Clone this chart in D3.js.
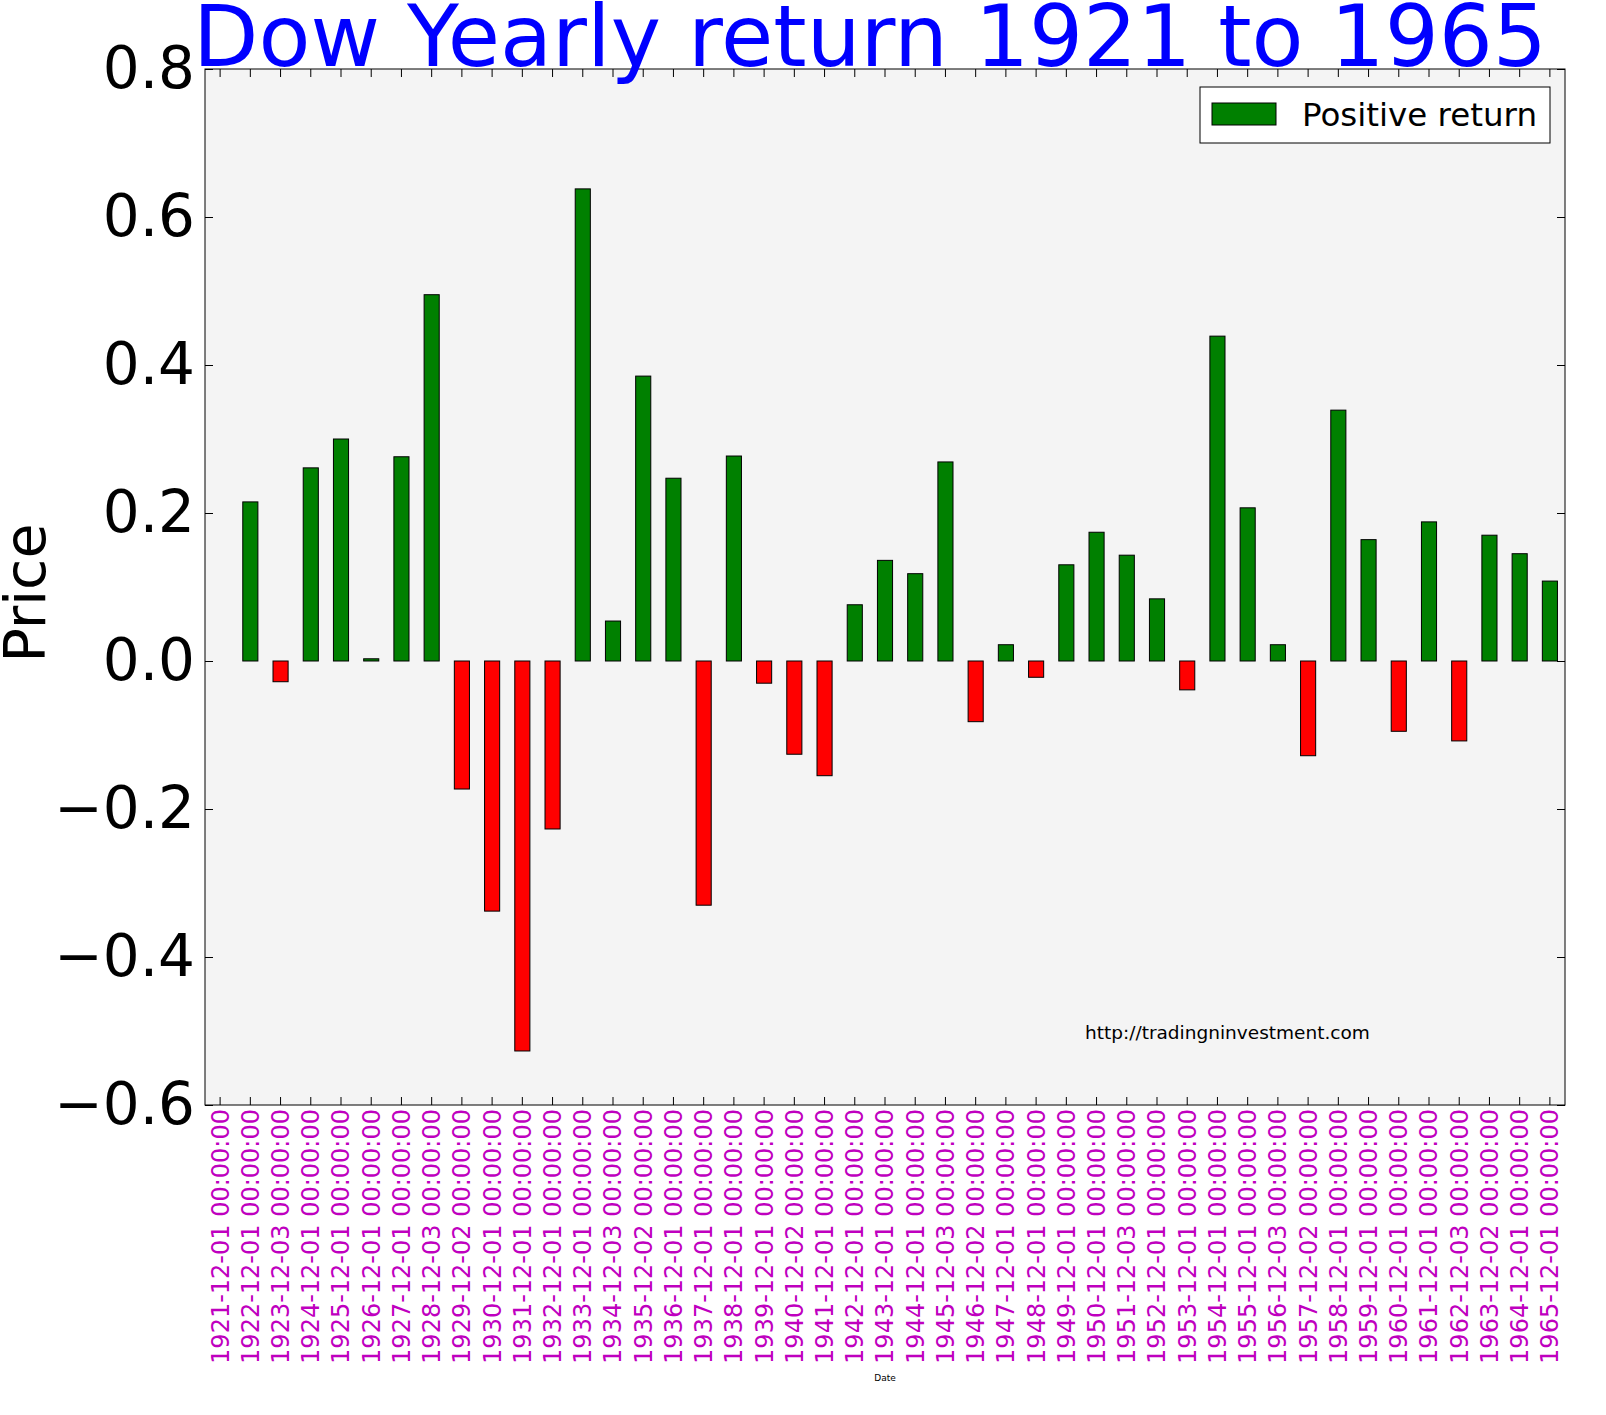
<!DOCTYPE html>
<html><head><meta charset="utf-8">
<script src="https://d3js.org/d3.v7.min.js"></script>
<style>body{margin:0;background:#fff}text{font-family:"DejaVu Sans",sans-serif}</style>
</head><body><svg id="c" width="1606" height="1415"></svg>
<script>
const dates=["1921-12-01","1922-12-01","1923-12-03","1924-12-01","1925-12-01","1926-12-01","1927-12-01","1928-12-03","1929-12-02","1930-12-01","1931-12-01","1932-12-01","1933-12-01","1934-12-03","1935-12-02","1936-12-01","1937-12-01","1938-12-01","1939-12-01","1940-12-02","1941-12-01","1942-12-01","1943-12-01","1944-12-01","1945-12-03","1946-12-02","1947-12-01","1948-12-01","1949-12-01","1950-12-01","1951-12-03","1952-12-01","1953-12-01","1954-12-01","1955-12-01","1956-12-03","1957-12-02","1958-12-01","1959-12-01","1960-12-01","1961-12-01","1962-12-03","1963-12-02","1964-12-01","1965-12-01"];
const returns=[0.0,0.215,-0.028,0.261,0.300,0.003,0.276,0.495,-0.173,-0.338,-0.527,-0.227,0.638,0.054,0.385,0.247,-0.330,0.277,-0.030,-0.126,-0.155,0.076,0.136,0.118,0.269,-0.082,0.022,-0.022,0.130,0.174,0.143,0.084,-0.039,0.439,0.207,0.022,-0.128,0.339,0.164,-0.095,0.188,-0.108,0.170,0.145,0.108];
const yTicks=[-0.6,-0.4,-0.2,0.0,0.2,0.4,0.6,0.8];
const L=205,R=1565,T=69,B=1105;
const svg=d3.select("#c");
const x=d3.scaleBand().domain(dates).range([L,R]);
const y=d3.scaleLinear().domain([-0.6,0.8]).range([B,T]);
svg.append("rect").attr("x",L).attr("y",T).attr("width",R-L).attr("height",B-T).attr("fill","#f4f4f4");
const bw=x.bandwidth()*0.5;
svg.selectAll(".bar").data(dates).join("rect")
 .attr("x",d=>x(d)+x.bandwidth()/2-bw/2).attr("width",bw)
 .attr("y",(d,i)=>y(Math.max(0,returns[i]))).attr("height",(d,i)=>Math.abs(y(returns[i])-y(0)))
 .attr("fill",(d,i)=>returns[i]>=0?"#008000":"#ff0000").attr("stroke","#000").attr("stroke-width",1);
svg.append("rect").attr("x",L).attr("y",T).attr("width",R-L).attr("height",B-T).attr("fill","none").attr("stroke","#000");
const ya=svg.append("g").attr("transform",`translate(${L},0)`).call(d3.axisLeft(y).tickValues(yTicks).tickSize(-8).tickPadding(10).tickFormat(d=>d3.format(".1f")(d).replace("-","\u2212")));
ya.select(".domain").remove();
ya.selectAll("text").attr("font-size",58).attr("fill","#000").style("font-family","DejaVu Sans");
const ya2=svg.append("g").attr("transform",`translate(${R},0)`).call(d3.axisRight(y).tickValues(yTicks).tickSize(-8).tickFormat(""));
ya2.select(".domain").remove();
const xa=svg.append("g").attr("transform",`translate(0,${B})`).call(d3.axisBottom(x).tickSize(-8).tickFormat(d=>d+" 00:00:00"));
xa.select(".domain").remove();
xa.selectAll("text").attr("transform","rotate(-90)").attr("text-anchor","end").attr("x",-4).attr("y",0).attr("dy","0.35em")
 .attr("font-size",24).attr("fill","#bf00bf").style("font-family","DejaVu Sans");
const xa2=svg.append("g").attr("transform",`translate(0,${T})`).call(d3.axisTop(x).tickSize(-8).tickFormat(""));
xa2.select(".domain").remove();
svg.append("text").attr("x",870).attr("y",66).attr("text-anchor","middle").attr("font-size",85).attr("fill","#0000ff").text("Dow Yearly return 1921 to 1965");
svg.append("text").attr("transform","translate(45,593) rotate(-90)").attr("text-anchor","middle").attr("font-size",57).text("Price");
svg.append("text").attr("x",885).attr("y",1381).attr("text-anchor","middle").attr("font-size",9).text("Date");
svg.append("text").attr("x",1085).attr("y",1039).attr("font-size",18.5).text("http://tradingninvestment.com");
const lg=svg.append("g");
lg.append("rect").attr("x",1200).attr("y",87).attr("width",350).attr("height",56).attr("fill","#fff").attr("stroke","#000");
lg.append("rect").attr("x",1212).attr("y",103).attr("width",64).attr("height",22).attr("fill","#008000").attr("stroke","#000");
lg.append("text").attr("x",1302).attr("y",126).attr("font-size",32.5).text("Positive return");
</script></body></html>
